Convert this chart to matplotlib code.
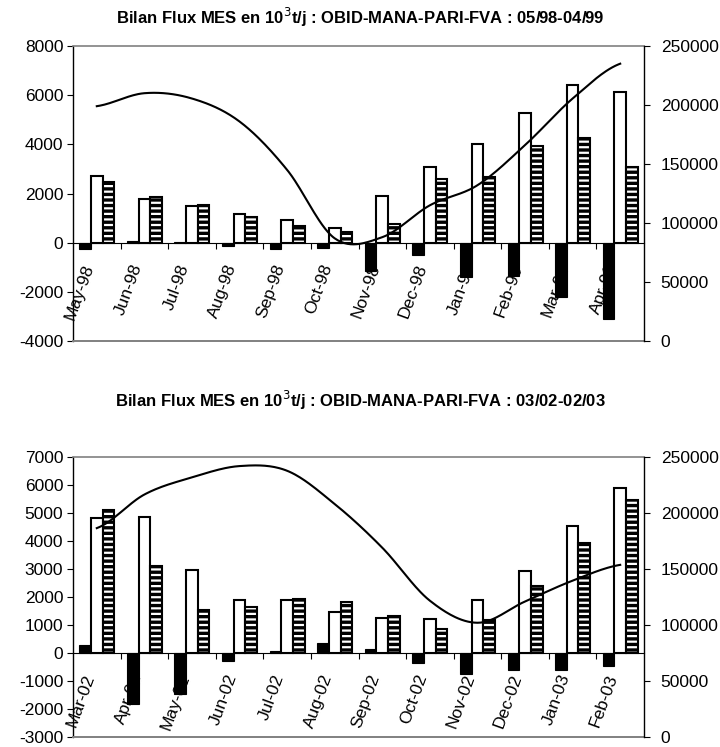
import numpy as np
import matplotlib
matplotlib.use("Agg")
import matplotlib.pyplot as plt

plt.rcParams['font.family'] = ['Liberation Sans', 'DejaVu Sans']
plt.rcParams['axes.unicode_minus'] = False
plt.rcParams['hatch.linewidth'] = 1.6

# ---------------- data ----------------
months1 = ["May-98", "Jun-98", "Jul-98", "Aug-98", "Sep-98", "Oct-98",
           "Nov-98", "Dec-98", "Jan-99", "Feb-99", "Mar-99", "Apr-99"]
bilan1 = [-270, 50, 30, -130, -240, -220, -1150, -490, -1390, -1350, -2220, -3090]
entree1 = [2730, 1790, 1475, 1150, 920, 580, 1890, 3090, 4030, 5260, 6400, 6130]
sortie1 = [2460, 1840, 1530, 1040, 680, 420, 770, 2610, 2690, 3940, 4240, 3090]
stock1 = [199000, 210000, 205500, 186000, 145000, 87000, 88000, 115000,
          132000, 166000, 205500, 235000]

months2 = ["Mar-02", "Apr-02", "May-02", "Jun-02", "Jul-02", "Aug-02",
           "Sep-02", "Oct-02", "Nov-02", "Dec-02", "Jan-03", "Feb-03"]
bilan2 = [300, -1810, -1450, -300, 60, 370, 130, -360, -740, -600, -600, -460]
entree2 = [4820, 4845, 2950, 1880, 1880, 1465, 1240, 1200, 1880, 2940, 4520, 5880]
sortie2 = [5110, 3095, 1550, 1630, 1920, 1820, 1330, 870, 1180, 2390, 3930, 5460]
stock2 = [186500, 216500, 231800, 241900, 237700, 208000, 169000, 121700,
          102000, 121000, 139600, 153700]

title1 = "Bilan Flux MES en 10$^{3}$t/j : OBID-MANA-PARI-FVA : 05/98-04/99"
title2 = "Bilan Flux MES en 10$^{3}$t/j : OBID-MANA-PARI-FVA : 03/02-02/03"


def catmull_rom(y, n=30):
    y = np.asarray(y, dtype=float)
    p = np.concatenate([[y[0]], y, [y[-1]]])
    xs, ys = [], []
    for i in range(len(y) - 1):
        p0, p1, p2, p3 = p[i], p[i + 1], p[i + 2], p[i + 3]
        t = np.linspace(0, 1, n, endpoint=False)
        m1 = (p2 - p0) / 2.0
        m2 = (p3 - p1) / 2.0
        h00 = 2 * t**3 - 3 * t**2 + 1
        h10 = t**3 - 2 * t**2 + t
        h01 = -2 * t**3 + 3 * t**2
        h11 = t**3 - t**2
        ys.append(h00 * p1 + h10 * m1 + h01 * p2 + h11 * m2)
        xs.append(i + t)
    xs.append([len(y) - 1])
    ys.append([y[-1]])
    return np.concatenate(xs), np.concatenate(ys)


FS = 12.5


def draw(rect, months, bilan, entree, sortie, stock, ylim, ystep, title, title_y):
    ax = fig.add_axes(rect)
    x = np.arange(len(months))
    w = 0.245
    ax.bar(x - w, bilan, w, color='black', edgecolor='black', linewidth=0.8, zorder=2)
    ax.bar(x, entree, w, color='white', edgecolor='black', linewidth=1.5, zorder=2)
    ax.bar(x + w, sortie, w, color='black', edgecolor='white', hatch='---',
           linewidth=0, zorder=2)
    ax.bar(x + w, sortie, w, fill=False, edgecolor='black', linewidth=1.5, zorder=2.1)

    ax.set_xlim(-0.5, len(months) - 0.5)
    ax.set_ylim(*ylim)
    ax.set_yticks(np.arange(ylim[0], ylim[1] + 1, ystep))
    ax.tick_params(axis='y', direction='out', length=4, width=0.8, pad=3, labelsize=FS)

    ax.spines['bottom'].set_position(('data', 0))
    ax.spines['bottom'].set_zorder(2.5)
    ax.spines['top'].set_color('#808080')
    ax.spines['top'].set_linewidth(1.2)
    ax.spines['right'].set_visible(False)
    ax.spines['left'].set_linewidth(1.0)
    ax.plot([0, 1], [0, 0], transform=ax.transAxes, color='#808080', lw=1.4,
            clip_on=False, zorder=3)

    ax.set_xticks(np.arange(len(months) - 1) + 0.5)
    ax.set_xticklabels([])
    ax.tick_params(axis='x', which='major', direction='out', length=4, width=0.8)
    ax.set_xticks(x, minor=True)
    ax.set_xticklabels(months, minor=True, rotation=70, ha='right', va='top',
                       fontsize=FS)
    ax.tick_params(axis='x', which='minor', length=0, pad=14)

    ax2 = ax.twinx()
    ax2.set_ylim(0, 250000)
    ax2.set_yticks(np.arange(0, 250001, 50000))
    ax2.tick_params(axis='y', direction='out', length=4, width=0.8, pad=8, labelsize=FS)
    for s in ['top', 'bottom', 'left']:
        ax2.spines[s].set_visible(False)
    ax2.spines['right'].set_linewidth(1.0)
    sx, sy = catmull_rom(stock)
    ax2.plot(sx, sy, color='black', lw=1.5)

    fig.text(0.5, title_y, title, ha='center', va='center', fontsize=12,
             fontweight='bold')
    return ax, ax2


fig = plt.figure(figsize=(7.2, 7.47), dpi=100)

draw([73 / 720, 1 - 341 / 747, 571 / 720, 295 / 747], months1, bilan1, entree1,
     sortie1, stock1, (-4000, 8000), 2000, title1, 1 - 17 / 747)
draw([73 / 720, 1 - 737 / 747, 571 / 720, 280 / 747], months2, bilan2, entree2,
     sortie2, stock2, (-3000, 7000), 1000, title2, 1 - 400 / 747)

fig.savefig("out.png", dpi=100)
